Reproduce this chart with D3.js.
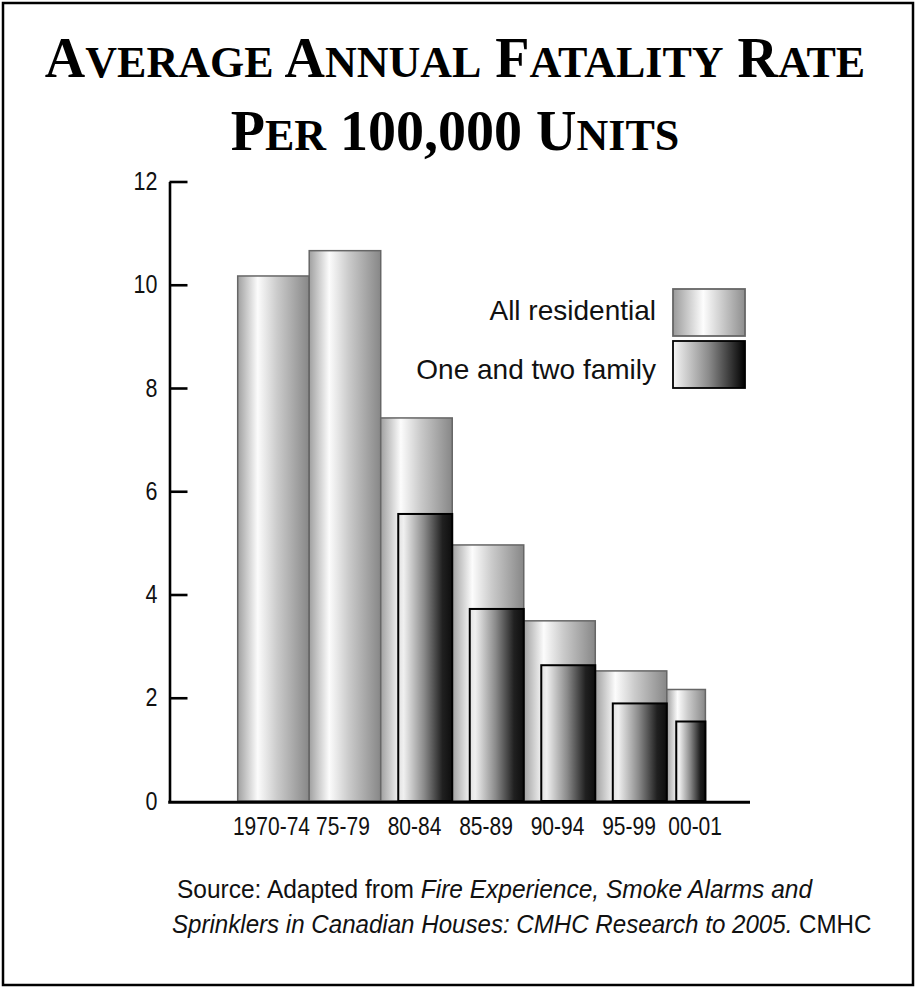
<!DOCTYPE html>
<html>
<head>
<meta charset="utf-8">
<script src="https://cdn.jsdelivr.net/npm/d3@7/dist/d3.min.js"></script>
<style>
  html, body { margin: 0; padding: 0; background: #fff; }
  svg { display: block; }
</style>
</head>
<body>
<svg id="chart" width="916" height="988"></svg>
<script>
// ---- data ----
const categories = ["1970-74", "75-79", "80-84", "85-89", "90-94", "95-99", "00-01"];
const allResidential = [10.17, 10.66, 7.42, 4.96, 3.49, 2.52, 2.16];
const oneTwoFamily = [null, null, 5.56, 3.72, 2.63, 1.89, 1.54];
const yTicks = [0, 2, 4, 6, 8, 10, 12];
const seriesNames = ["All residential", "One and two family"];

// ---- layout ----
// the last period (2000-01) covers fewer years, so its band is narrower
const bandUnits = [1, 1, 1, 1, 1, 1, 0.54];
const frontShare = 0.755; // front bar fills the right part of each band
const sans = "'Liberation Sans', Arial, sans-serif";

const svg = d3.select("#chart");
const defs = svg.append("defs");

function gradient(id, stops) {
  const g = defs.append("linearGradient").attr("id", id)
    .attr("x1", "0%").attr("x2", "100%").attr("y1", "0%").attr("y2", "0%");
  stops.forEach(([o, c]) => g.append("stop").attr("offset", o).attr("stop-color", c));
}
gradient("gLight", [[0, "#a0a0a0"], [0.28, "#fcfcfc"], [0.55, "#cbcbcb"], [1, "#878787"]]);
gradient("gDark", [[0, "#e2e2e2"], [0.1, "#f0f0f0"], [0.48, "#8a8a8a"], [0.82, "#202020"], [1, "#0e0e0e"]]);
gradient("gLegendLight", [[0, "#9a9a9a"], [0.42, "#fdfdfd"], [1, "#8e8e8e"]]);
gradient("gLegendDark", [[0, "#f6f6f6"], [0.5, "#8a8a8a"], [1, "#000"]]);

// frame
svg.append("rect").attr("x", 3).attr("y", 3).attr("width", 910).attr("height", 982)
  .attr("fill", "none").attr("stroke", "#000").attr("stroke-width", 2.5);

// title in small caps
const title = svg.append("text").attr("text-anchor", "middle")
  .attr("font-family", "'Liberation Serif', 'Times New Roman', serif")
  .attr("font-weight", "bold").attr("fill", "#000");
function smallCapsLine(y, words) {
  const line = title.append("tspan").attr("x", 455).attr("y", y);
  words.forEach((w, wi) => {
    // first letter full size, remaining letters as small capitals; numbers stay full size
    let big = w[0], rest = w.slice(1);
    if (/^[0-9,]+$/.test(w)) { big = w; rest = ""; }
    line.append("tspan").attr("font-size", 56).text((wi ? " " : "") + big);
    if (rest) line.append("tspan").attr("font-size", 44).text(rest);
  });
}
smallCapsLine(77, ["AVERAGE", "ANNUAL", "FATALITY", "RATE"]);
smallCapsLine(150, ["PER", "100,000", "UNITS"]);

// scales
const y = d3.scaleLinear().domain([0, 12]).range([801, 181.5]);
const x = d3.scaleLinear().domain([0, d3.sum(bandUnits)]).range([237.7, 705.4]);
const bandStart = bandUnits.map((u, i) => d3.sum(bandUnits.slice(0, i)));
const bands = categories.map((c, i) => ({
  cat: c,
  narrow: bandUnits[i] < 1,
  x0: x(bandStart[i]),
  x1: x(bandStart[i] + bandUnits[i]),
  all: allResidential[i],
  one: oneTwoFamily[i]
}));

// back bars: all residential
svg.append("g").selectAll("rect").data(bands).join("rect")
  .attr("x", d => d.x0).attr("width", d => d.x1 - d.x0)
  .attr("y", d => y(d.all)).attr("height", d => y(0) - y(d.all))
  .attr("fill", "url(#gLight)").attr("stroke", "#666").attr("stroke-width", 1.5);

// front bars: one and two family
svg.append("g").selectAll("rect").data(bands.filter(d => d.one != null)).join("rect")
  .attr("x", d => d.x1 - (d.x1 - d.x0) * frontShare).attr("width", d => (d.x1 - d.x0) * frontShare)
  .attr("y", d => y(d.one)).attr("height", d => y(0) - y(d.one))
  .attr("fill", "url(#gDark)").attr("stroke", "#000").attr("stroke-width", 2);

// y axis
const yAxis = svg.append("g").attr("transform", "translate(169.5,0)")
  .call(d3.axisLeft(y).tickValues(yTicks).tickFormat(d3.format("d"))
    .tickSizeInner(-18).tickSizeOuter(0).tickPadding(12));
yAxis.select(".domain").attr("stroke", "#000").attr("stroke-width", 2.6);
yAxis.selectAll(".tick line").attr("stroke", "#000").attr("stroke-width", 2.6);
yAxis.selectAll(".tick text").attr("font-family", sans)
  .attr("font-size", 25).attr("fill", "#111")
  .attr("transform", "scale(0.86,1)").attr("x", -12 / 0.86);
yAxis.selectAll(".tick").filter(d => d === 0).select("line").remove();

// x baseline
svg.append("line").attr("x1", 168.2).attr("x2", 750).attr("y1", y(0) + 1.2).attr("y2", y(0) + 1.2)
  .attr("stroke", "#000").attr("stroke-width", 3);

// x labels (the narrow last band's label starts at the band edge)
svg.append("g").selectAll("text").data(bands).join("text")
  .attr("transform", d => `translate(${d.narrow ? d.x0 + 1.5 : (d.x0 + d.x1) / 2 - 2},835) scale(0.84,1)`)
  .attr("text-anchor", d => d.narrow ? "start" : "middle")
  .attr("font-family", sans)
  .attr("font-size", 25).attr("fill", "#111")
  .text(d => d.cat);

// legend
const legend = svg.append("g");
const legendRows = [
  { name: seriesNames[0], fill: "url(#gLegendLight)", stroke: "#666", y: 289, base: 320 },
  { name: seriesNames[1], fill: "url(#gLegendDark)", stroke: "#000", y: 341, base: 379 }
];
legend.selectAll("rect").data(legendRows).join("rect")
  .attr("x", 673).attr("y", d => d.y).attr("width", 72).attr("height", 47)
  .attr("fill", d => d.fill).attr("stroke", d => d.stroke).attr("stroke-width", 1.8);
legend.selectAll("text").data(legendRows).join("text")
  .attr("x", 656).attr("y", d => d.base).attr("text-anchor", "end")
  .attr("font-family", sans)
  .attr("font-size", 28).attr("fill", "#111")
  .text(d => d.name);

// source note
const src = svg.append("g").attr("font-family", sans)
  .attr("font-size", 25).attr("fill", "#111");
const s1 = src.append("text").attr("transform", "translate(177,898) scale(0.98,1)");
s1.append("tspan").text("Source: Adapted from ");
s1.append("tspan").attr("font-style", "italic").text("Fire Experience, Smoke Alarms and");
const s2 = src.append("text").attr("transform", "translate(172,933) scale(0.965,1)");
s2.append("tspan").attr("font-style", "italic").text("Sprinklers in Canadian Houses: CMHC Research to 2005.");
s2.append("tspan").text(" CMHC");
</script>
</body>
</html>
